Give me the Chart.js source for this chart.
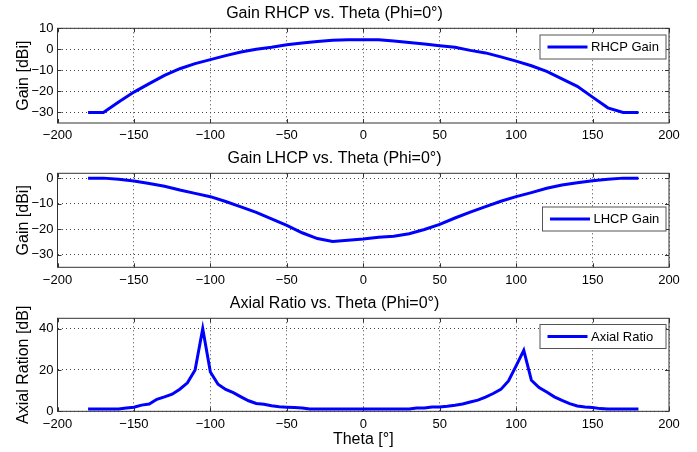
<!DOCTYPE html>
<html>
<head>
<meta charset="utf-8">
<script src="https://cdn.jsdelivr.net/npm/chart.js@4.4.0/dist/chart.umd.min.js"></script>
<style>
  body { margin: 0; background: #fff; }
  canvas { position: absolute; left: 0; }
</style>
</head>
<body>
<canvas id="rhcpChart" width="697" height="145" style="top:0px"></canvas>
<canvas id="lhcpChart" width="697" height="145" style="top:145px"></canvas>
<canvas id="arChart" width="697" height="162" style="top:290px"></canvas>
<script>
// Theta angles (deg)
const thetaGain = [-180, -170, -160, -150, -140, -130, -120, -110, -100, -90, -80, -70, -60, -50, -40, -30, -20, -10,
    0, 10, 20, 30, 40, 50, 60, 70, 80, 90, 100, 110, 120, 130, 140, 150, 160, 170, 180];
const thetaAR = [-180, -175, -170, -165, -160, -155, -150, -145, -140, -135, -130, -125, -120, -115, -110, -105, -100, -95,
    -90, -85, -80, -75, -70, -65, -60, -55, -50, -45, -40, -35, -30, -25, -20, -15, -10, -5,
    0, 5, 10, 15, 20, 25, 30, 35, 40, 45, 50, 55, 60, 65, 70, 75, 80, 85,
    90, 95, 100, 105, 110, 115, 120, 125, 130, 135, 140, 145, 150, 155, 160, 165, 170, 175, 180];

// Series values
const rhcpGain = [-30, -30, -25, -20.3, -16.3, -12.4, -9.2, -6.8, -4.9, -3.0, -1.3, 0, 1, 2.2, 3.0, 3.7, 4.3, 4.6,
    4.6, 4.6, 4.0, 3.2, 2.5, 1.7, 1.0, -0.5, -1.7, -3.6, -5.6, -7.8, -10.5, -14, -17.6, -22.7, -27.8, -30, -30];
const lhcpGain = [0.1, 0.1, -0.3, -1.0, -2.0, -3.1, -4.6, -5.9, -7.2, -9.1, -11.2, -13.4, -15.9, -18.5, -21.4, -23.7, -24.8, -24.4,
    -23.9, -23.2, -22.8, -21.8, -20.1, -18.1, -15.6, -13.3, -11.1, -9.0, -7.2, -5.6, -3.9, -2.6, -1.7, -0.9, -0.3, 0.1, 0.1];
const axialRatio = [1.1, 1.1, 1.1, 1.1, 1.1, 1.6, 2.0, 3.0, 3.5, 5.8, 7.0, 8.3, 10.7, 13.8, 20, 40, 19, 13.1,
    10.6, 9.0, 7.0, 5.1, 3.8, 3.4, 2.7, 2.2, 2.0, 1.8, 1.6, 1.1, 1.1, 1.1, 1.1, 1.1, 1.1, 1.1,
    1.1, 1.1, 1.1, 1.1, 1.1, 1.1, 1.1, 1.6, 1.6, 2.1, 2.1, 2.4, 2.9, 3.5, 4.5, 5.4, 6.9, 8.6,
    10.6, 14.7, 22, 29.5, 15, 11.5, 9.3, 7.0, 5.3, 3.7, 2.6, 2.1, 1.8, 1.3, 1.1, 1.1, 1.1, 1.1, 1.1];

// Tick labels
const gainTicks = [10, 0, -10, -20, -30];
const lhcpTicks = [0, -10, -20, -30];
const arTicks = [0, 20, 40];

Chart.defaults.font.family = "'Liberation Sans', Arial, sans-serif";
Chart.defaults.color = '#000';

const minus = v => String(v).replace('-', '\u2212');

// Full box around the plot area (MATLAB style), with small inward ticks
const framePlugin = {
    id: 'frame',
    beforeDatasetsDraw(chart) {
        const { ctx, chartArea: a, scales } = chart;
        ctx.save();
        ctx.strokeStyle = '#333';
        ctx.lineWidth = 1;
        ctx.strokeRect(a.left, a.top, a.right - a.left, a.bottom - a.top);
        ctx.beginPath();
        scales.x.ticks.forEach(t => {
            const px = Math.round(scales.x.getPixelForValue(t.value)) + 0.5;
            ctx.moveTo(px, a.bottom); ctx.lineTo(px, a.bottom - 4);
            ctx.moveTo(px, a.top); ctx.lineTo(px, a.top + 4);
        });
        scales.y.ticks.forEach(t => {
            const py = Math.round(scales.y.getPixelForValue(t.value)) + 0.5;
            ctx.moveTo(a.left, py); ctx.lineTo(a.left + 4, py);
            ctx.moveTo(a.right, py); ctx.lineTo(a.right - 4, py);
        });
        ctx.stroke();
        ctx.restore();
    }
};

// Boxed legend inside the plot area
const boxLegendPlugin = {
    id: 'boxLegend',
    afterDraw(chart, args, opts) {
        const { ctx } = chart;
        const ds = chart.data.datasets[0];
        const cy = opts.y + opts.h / 2;
        ctx.save();
        ctx.fillStyle = '#fff';
        ctx.fillRect(opts.x, opts.y, opts.w, opts.h);
        ctx.strokeStyle = '#555';
        ctx.lineWidth = 1;
        ctx.strokeRect(opts.x, opts.y, opts.w, opts.h);
        ctx.strokeStyle = ds.borderColor;
        ctx.lineWidth = 3;
        ctx.beginPath();
        ctx.moveTo(opts.x + 7.5, cy);
        ctx.lineTo(opts.x + 47.5, cy);
        ctx.stroke();
        ctx.fillStyle = '#000';
        ctx.font = "13px 'Liberation Sans', Arial, sans-serif";
        ctx.textBaseline = 'middle';
        ctx.fillText(ds.label, opts.x + 51, cy + 0.5);
        ctx.restore();
    }
};

function makeChart(id, cfg) {
    return new Chart(document.getElementById(id), {
        type: 'line',
        data: {
            datasets: [{
                label: cfg.label,
                data: cfg.x.map((x, i) => ({ x: x, y: cfg.y[i] })),
                borderColor: '#0000ff',
                borderWidth: 3,
                pointRadius: 0,
                tension: 0,
                fill: false
            }]
        },
        options: {
            responsive: false,
            animation: false,
            devicePixelRatio: 1,
            layout: { padding: { left: 0, right: 28, top: 0, bottom: 0 } },
            plugins: {
                legend: { display: false },
                tooltip: { enabled: false },
                title: {
                    display: true,
                    text: cfg.title,
                    color: '#000',
                    font: { size: 16, weight: 'normal' },
                    padding: { top: 4.4, bottom: 4.7 }
                },
                boxLegend: cfg.legendBox
            },
            scales: {
                x: {
                    type: 'linear',
                    min: -200,
                    max: 200,
                    afterFit: s => { s.height = cfg.xAxisHeight; },
                    ticks: {
                        stepSize: 50,
                        maxRotation: 0,
                        padding: 5,
                        font: { size: 13 },
                        callback: v => minus(v)
                    },
                    grid: { color: '#444', lineWidth: 1, drawTicks: false },
                    border: { display: false, dash: [1, 3] },
                    title: {
                        display: !!cfg.xTitle,
                        text: cfg.xTitle || '',
                        font: { size: 16 },
                        padding: { top: 0, bottom: 2.4 }
                    }
                },
                y: {
                    min: cfg.yMin,
                    max: cfg.yMax,
                    afterFit: s => { s.width = 57.5; },
                    afterBuildTicks: s => { s.ticks = cfg.yTicks.map(v => ({ value: v })); },
                    ticks: {
                        padding: 4,
                        font: { size: 13 },
                        callback: v => minus(v)
                    },
                    grid: { color: '#444', lineWidth: 1, drawTicks: false },
                    border: { display: false, dash: [1, 3] },
                    title: {
                        display: true,
                        text: cfg.yTitle,
                        font: { size: 16 },
                        padding: { top: 13.5, bottom: 0 }
                    }
                }
            }
        },
        plugins: [framePlugin, boxLegendPlugin]
    });
}

makeChart('rhcpChart', {
    title: 'Gain RHCP vs. Theta (Phi=0°)',
    label: 'RHCP Gain',
    x: thetaGain,
    y: rhcpGain,
    yMin: -35, yMax: 10, yTicks: gainTicks,
    yTitle: 'Gain [dBi]',
    xAxisHeight: 22,
    legendBox: { x: 540, y: 35, w: 126, h: 24 }
});

makeChart('lhcpChart', {
    title: 'Gain LHCP vs. Theta (Phi=0°)',
    label: 'LHCP Gain',
    x: thetaGain,
    y: lhcpGain,
    yMin: -35, yMax: 2, yTicks: lhcpTicks,
    yTitle: 'Gain [dBi]',
    xAxisHeight: 22.7,
    legendBox: { x: 542.5, y: 62, w: 123.5, h: 24 }
});

makeChart('arChart', {
    title: 'Axial Ratio vs. Theta (Phi=0°)',
    label: 'Axial Ratio',
    x: thetaAR,
    y: axialRatio,
    yMin: 0, yMax: 45, yTicks: arTicks,
    yTitle: 'Axial Ration [dB]',
    xTitle: 'Theta [°]',
    xAxisHeight: 40.7,
    legendBox: { x: 540, y: 34.5, w: 126, h: 24 }
});
</script>
</body>
</html>
